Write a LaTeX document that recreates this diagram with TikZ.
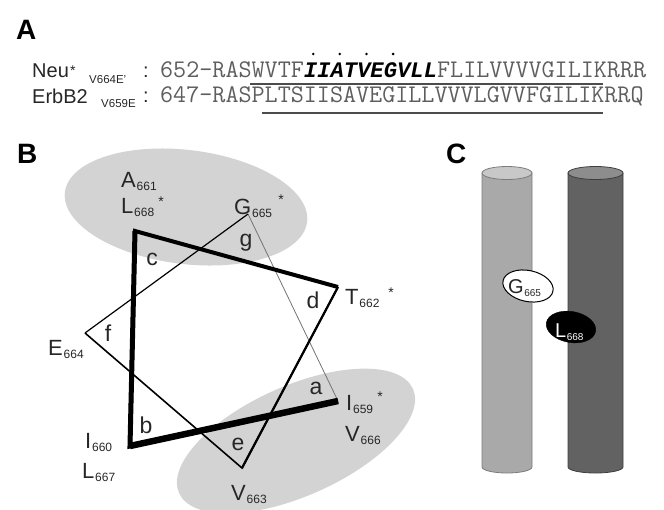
\documentclass[tikz,border=0pt]{standalone}
\usepackage{fontspec}
\setmainfont{Liberation Sans}
\newfontfamily\seqfont{Latin Modern Mono}
\newfontfamily\seqboldfont{Liberation Mono}
\usetikzlibrary{calc,shapes.geometric}

\definecolor{ovalgray}{HTML}{D3D3D3}
\definecolor{seqgray}{HTML}{5E5E5E}
\definecolor{inkgray}{HTML}{262626}
\definecolor{rodlight}{HTML}{A9A9A9}
\definecolor{rodlighttop}{HTML}{C8C8C8}
\definecolor{rodlightrim}{HTML}{7C7C7C}
\definecolor{roddark}{HTML}{626262}
\definecolor{roddarktop}{HTML}{8D8D8D}
\definecolor{roddarkrim}{HTML}{3E3E3E}

% residue number set as a lowered small index
\newcommand\resnum[1]{\kern0.8pt\raisebox{-3pt}{\fontsize{12}{12}\selectfont #1}}
\newcommand\rodnum[1]{\kern0.5pt\raisebox{-3.5pt}{\fontsize{10}{10}\selectfont #1}}
% core motif in bold oblique, same 13.32pt pitch as the plain letters
\newcommand\motif[1]{\textcolor{black}{\seqboldfont\fontsize{22.2}{22.2}\selectfont\bfseries\itshape #1}}

\begin{document}
\begin{tikzpicture}[x=1pt,y=-1pt,
  panel/.style={font=\fontsize{28}{28}\selectfont\bfseries, anchor=base west, inner sep=0pt},
  lab/.style={font=\fontsize{20}{20}\selectfont, text=inkgray, anchor=base west, inner sep=0pt},
  sublab/.style={font=\fontsize{11.5}{11.5}\selectfont, text=inkgray, anchor=base west, inner sep=0pt},
  seq/.style={font=\seqfont\fontsize{25.37}{25.37}\selectfont, text=seqgray, anchor=base west, inner sep=0pt},
  res/.style={font=\fontsize{22}{22}\selectfont, text=inkgray, anchor=base west, inner sep=0pt},
  heptad/.style={font=\fontsize{23}{23}\selectfont, text=inkgray, inner sep=0pt},
  starmark/.style={font=\fontsize{14}{14}\selectfont, text=inkgray, anchor=base, inner sep=0pt},
  underbar/.style={line width=1.3pt, draw=black!70}
]
\useasboundingbox (0,0) rectangle (664,509);

% ---------------- A: sequences ----------------
\node[panel] (labA) at (16,39) {A};

\node[lab] (neu) at (32,77) {Neu};
\node[starmark, anchor=base west] (neustar) at ([xshift=0.8pt]neu.base east) {\raisebox{2pt}{*}};
\node[sublab] (neusub) at (89,83) {V664E'};
\node[lab] (neucolon) at (143,77) {:};
\node[seq] (seqneu) at (160,77)
  {652-RASWVTF\motif{IIATVEGVLL}FLILVVVVGILIKRRR};

\node[lab] (erb) at (32,103) {ErbB2};
\node[sublab] (erbsub) at (101,107) {V659E};
\node[lab] (erbcolon) at (143,102) {:};
\node[seq] (seqerb) at (160,102) {647-RASPLTSIISAVEGILLVVVLGVVFGILIKRRQ};

% interface residues marked above the Neu sequence
\foreach \i in {11,13,15,17}
  \fill[black] ($(seqneu.base west)+({(\i+0.5)*13.32},-23)$) circle (1.4pt);

% transmembrane stretches
\draw[underbar] (250,84) -- (603,84);
\draw[underbar] (262,113) -- (603,113);

% ---------------- B: helical wheel ----------------
\node[panel] (labB) at (17,163) {B};

\fill[ovalgray, rotate around={-7:(186,207)}] (186,207) ellipse [x radius=122pt, y radius=57pt];
\fill[ovalgray, rotate around={24:(296,441)}] (296,441) ellipse [x radius=128pt, y radius=55pt];

\coordinate (va) at (338,401);
\coordinate (vb) at (130,446);
\coordinate (vc) at (135,231);
\coordinate (vd) at (338,287);
\coordinate (ve) at (242,468);
\coordinate (vf) at (85,333);
\coordinate (vg) at (248,214);

\draw[line width=0.8pt, draw=black!55] (vg) -- (va);
\draw[line width=1.2pt] (vf) -- (vg);
\draw[line width=1.6pt, line join=miter] (vd) -- (ve) -- (vf);
\draw[line width=2.2pt] (vd) -- (ve);
\draw[line width=4pt, line join=miter] (vb) -- (vc) -- (vd);
\draw[line width=5pt, line join=miter] (va) -- (vb) -- (vc);
\draw[line width=6.5pt] (va) -- (vb);

% heptad positions
\node[heptad] (ha) at (316,388) {a};
\node[heptad] (hb) at (146,425) {b};
\node[heptad] (hc) at (152,259) {c};
\node[heptad] (hd) at (313,300) {d};
\node[heptad] (he) at (238,444) {e};
\node[heptad] (hf) at (108,333) {f};
\node[heptad] (hg) at (246,243) {g};

% residues
\node[res] (rA661) at (121,187) {A\resnum{661}};
\node[res] (rL668) at (121,213) {L\resnum{668}};
\node[starmark] (sL668) at (161,206) {*};
\node[res] (rG665) at (234,214) {G\resnum{665}};
\node[starmark] (sG665) at (281,204) {*};
\node[res] (rT662) at (345,304) {T\resnum{662}};
\node[starmark] (sT662) at (391,297) {*};
\node[res] (rE664) at (48,355) {E\resnum{664}};
\node[res] (rI660) at (85,448) {I\resnum{660}};
\node[res] (rL667) at (82,478) {L\resnum{667}};
\node[res] (rV663) at (231,500) {V\resnum{663}};
\node[res] (rI659) at (346,410) {I\resnum{659}};
\node[starmark] (sI659) at (380,401) {*};
\node[res] (rV666) at (345,441) {V\resnum{666}};

% ---------------- C: helix pair ----------------
\node[panel] (labC) at (446,163) {C};

% light helix
\filldraw[fill=rodlight, draw=rodlightrim, line width=0.8pt]
  (482,173) -- (482,467) arc[start angle=180, end angle=360, x radius=25pt, y radius=6pt]
  -- (532,173) -- cycle;
\filldraw[fill=rodlighttop, draw=rodlightrim, line width=0.8pt]
  (507,173) ellipse [x radius=25pt, y radius=6.5pt];

% dark helix
\filldraw[fill=roddark, draw=roddarkrim, line width=0.8pt]
  (568,173) -- (568,467) arc[start angle=180, end angle=360, x radius=27.5pt, y radius=6pt]
  -- (623,173) -- cycle;
\filldraw[fill=roddarktop, draw=roddarkrim, line width=0.8pt]
  (595.5,173) ellipse [x radius=27.5pt, y radius=6.5pt];

% contact residues
\node[draw=black, line width=1pt, fill=white, ellipse, minimum width=51pt, minimum height=31pt, inner sep=0pt, rotate=-12] (gly) at (528,286) {};
\node[font=\fontsize{20}{20}\selectfont, text=inkgray, anchor=base west, inner sep=0pt] (glytext) at (508,293) {G\rodnum{665}};
\node[draw=black, fill=black, ellipse, minimum width=50pt, minimum height=31pt, inner sep=0pt, rotate=-10] (leu) at (571,327) {};
\node[font=\fontsize{20}{20}\selectfont, text=white, anchor=base west, inner sep=0pt] (leutext) at (555,337) {L\rodnum{668}};
\end{tikzpicture}
\end{document}
